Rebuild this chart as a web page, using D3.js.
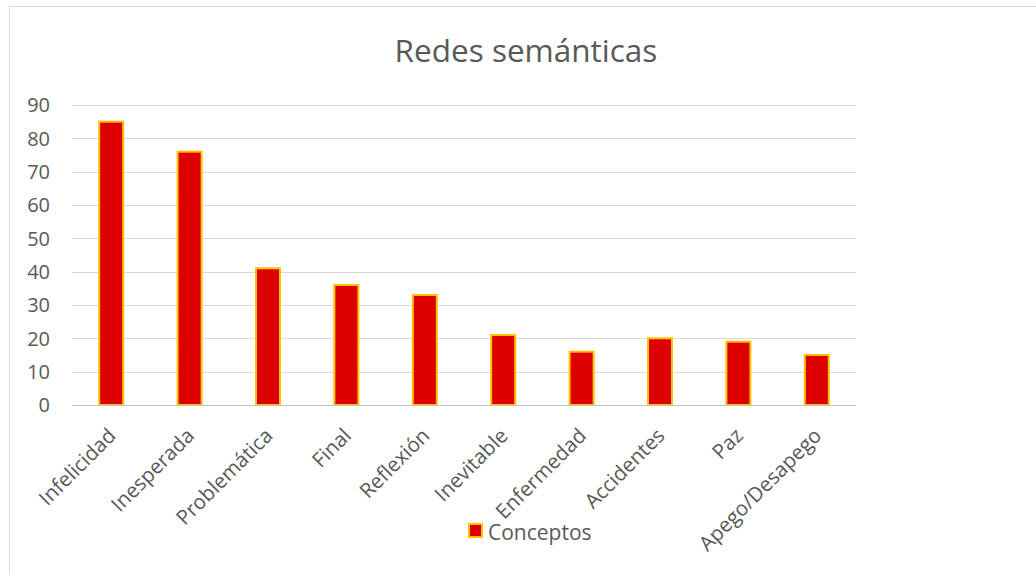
<!DOCTYPE html>
<html>
<head>
<meta charset="utf-8">
<script src="https://cdn.jsdelivr.net/npm/d3@7"></script>
<style>
  body { margin: 0; background: #fff; }
  svg { font-family: "Open Sans", "Noto Sans", sans-serif; }
</style>
</head>
<body>
<div class="chart"></div>
<script>
const CATEGORIES = ['Infelicidad', 'Inesperada', 'Problemática', 'Final', 'Reflexión',
                    'Inevitable', 'Enfermedad', 'Accidentes', 'Paz', 'Apego/Desapego'];
const VALUES = [85, 76, 41, 36, 33, 21, 16, 20, 19, 15];
const Y_TICKS = [0, 10, 20, 30, 40, 50, 60, 70, 80, 90];
const SERIES_NAME = 'Conceptos';
const TITLE = 'Redes semánticas';

var W = 1036, H = 573;
var margin = {top: 105, right: 180, bottom: 168, left: 72},
    width  = W - margin.left - margin.right,
    height = H - margin.top - margin.bottom;

var root = d3.select('.chart').append('svg')
  .attr('width', W).attr('height', H);

// outer chart border
root.append('rect')
  .attr('x', 9.5).attr('y', 6.5)
  .attr('width', W).attr('height', H)
  .attr('fill', 'none').attr('stroke', '#d9d9d9');

root.append('text')
  .attr('x', 526).attr('y', 62)
  .attr('text-anchor', 'middle')
  .attr('font-size', 31.5).attr('fill', '#595959')
  .text(TITLE);

var svg = root.append('g')
  .attr('transform', 'translate(' + margin.left + ',' + margin.top + ')');

var x = d3.scaleBand().domain(CATEGORIES).range([0, width]).paddingInner(0.68).paddingOuter(0.34);
var y = d3.scaleLinear().domain([0, 90]).range([height, 0]);

// gridlines
svg.selectAll('.grid')
  .data(Y_TICKS.filter(d => d > 0))
  .enter().append('line')
  .attr('x1', 0).attr('x2', width)
  .attr('y1', d => Math.round(y(d)) + 0.5).attr('y2', d => Math.round(y(d)) + 0.5)
  .attr('stroke', '#d9d9d9');

// y labels
svg.selectAll('.ylab')
  .data(Y_TICKS)
  .enter().append('text')
  .attr('x', -22).attr('y', d => y(d))
  .attr('dy', '0.36em')
  .attr('text-anchor', 'end')
  .attr('font-size', 20).attr('fill', '#595959')
  .text(d => d);

// bars
svg.selectAll('.bar')
  .data(VALUES)
  .enter().append('rect')
  .attr('x', (d, i) => x(CATEGORIES[i]) + x.bandwidth() / 2 - 12)
  .attr('y', d => y(d))
  .attr('width', 24)
  .attr('height', d => height - y(d))
  .attr('fill', '#dd0000')
  .attr('stroke', '#ffc000').attr('stroke-width', 2);

// baseline
svg.append('line')
  .attr('x1', 0).attr('x2', width)
  .attr('y1', height + 0.5).attr('y2', height + 0.5)
  .attr('stroke', '#bfbfbf');

// x labels rotated
svg.selectAll('.xlab')
  .data(CATEGORIES)
  .enter().append('text')
  .attr('transform', d => 'translate(' + (x(d) + x.bandwidth() / 2 + 6) + ',' + (height + 32) + ') rotate(-45)')
  .attr('text-anchor', 'end')
  .attr('font-size', 20.5).attr('fill', '#595959')
  .text(d => d);

// legend
var lg = root.append('g').attr('transform', 'translate(469,524)');
lg.append('rect')
  .attr('x', 0).attr('y', 0).attr('width', 13).attr('height', 13)
  .attr('fill', '#dd0000').attr('stroke', '#ffc000').attr('stroke-width', 2);
lg.append('text')
  .attr('x', 19).attr('y', 16)
  .attr('font-size', 21).attr('fill', '#595959')
  .text(SERIES_NAME);
</script>
</body>
</html>
